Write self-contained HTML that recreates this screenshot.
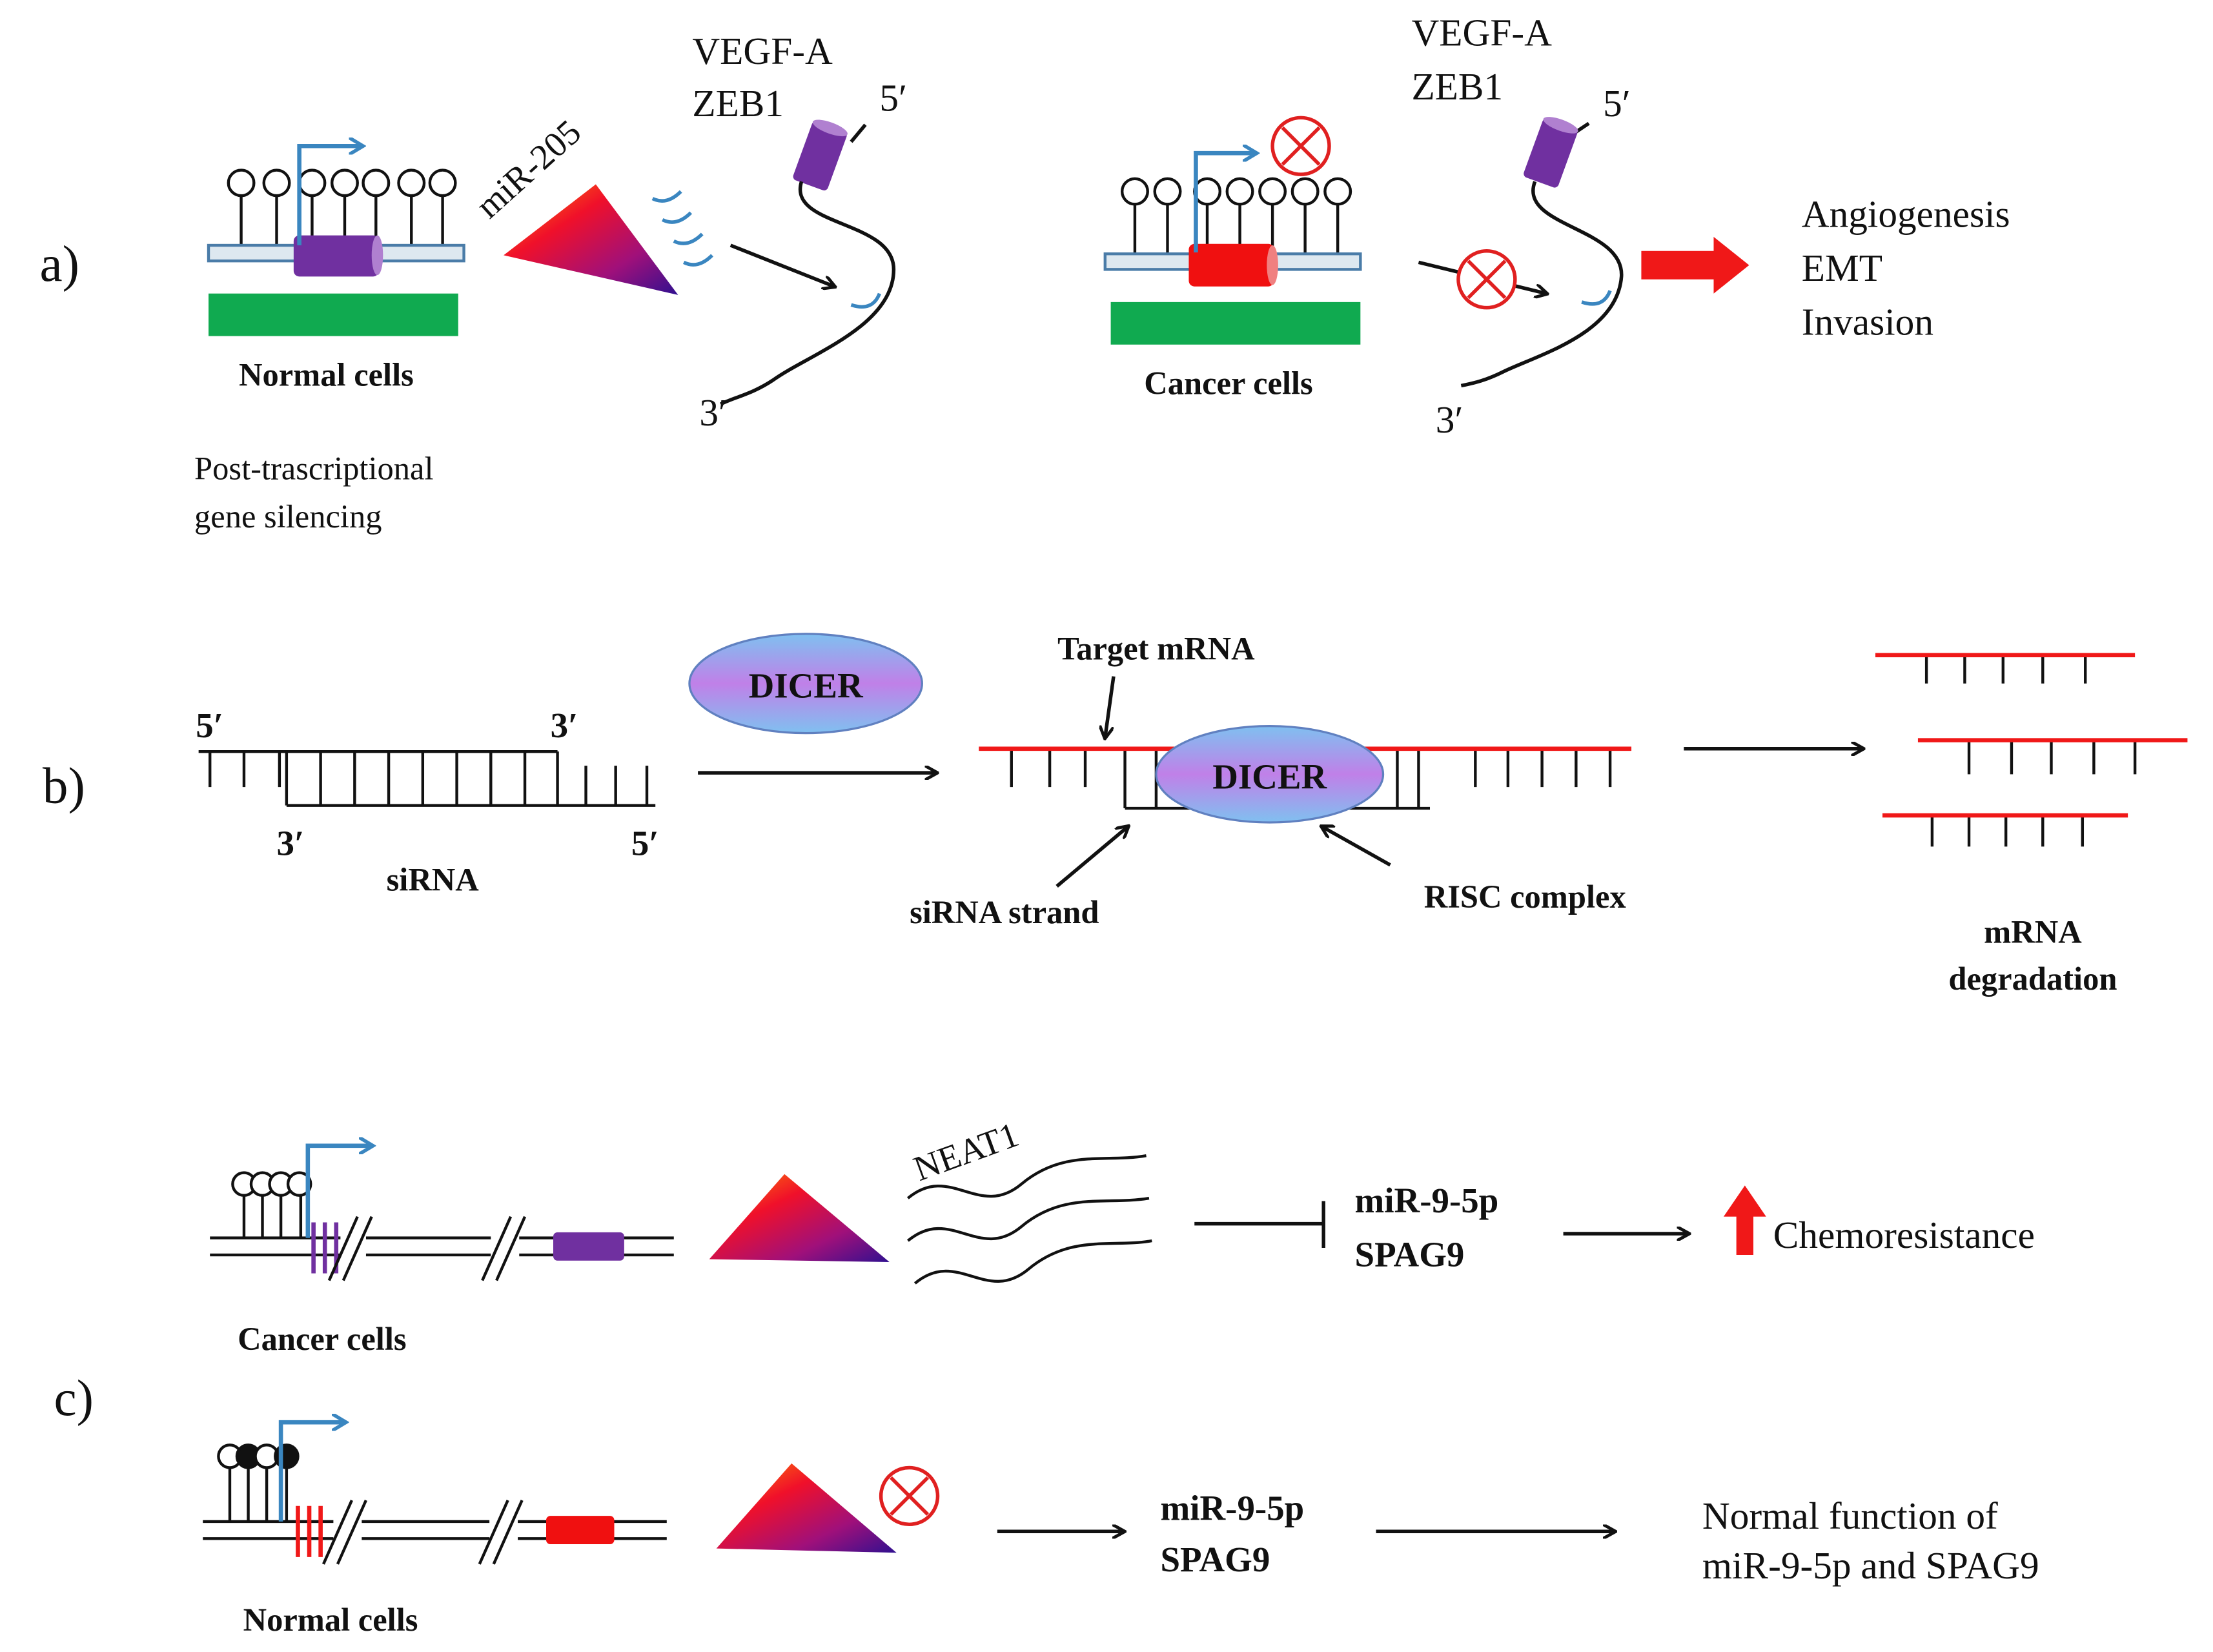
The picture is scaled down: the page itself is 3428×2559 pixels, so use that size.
<!DOCTYPE html>
<html><head><meta charset="utf-8"><style>
html,body{margin:0;padding:0;background:#fff}
svg{display:block}
text{font-family:"Liberation Serif",serif;fill:#111}
.b{font-weight:bold}
</style></head><body>
<svg width="3428" height="2559" viewBox="0 0 1560 1165" preserveAspectRatio="none" xmlns="http://www.w3.org/2000/svg">
<defs>
<linearGradient id="tri" x1="0" y1="0" x2="1" y2="1">
<stop offset="0" stop-color="#ff8a00"/><stop offset="0.35" stop-color="#f0102a"/><stop offset="0.7" stop-color="#a0107a"/><stop offset="1" stop-color="#301090"/></linearGradient>
<linearGradient id="dic" x1="0" y1="0" x2="0" y2="1">
<stop offset="0" stop-color="#7fc0f0"/><stop offset="0.5" stop-color="#c080e8"/><stop offset="1" stop-color="#80c0f0"/></linearGradient>
<marker id="ah" markerWidth="10" markerHeight="10" refX="8" refY="5" orient="auto" markerUnits="userSpaceOnUse"><path d="M0,0 L9,5 L0,10" fill="none" stroke="#111" stroke-width="2.2"/></marker>
<marker id="bh" markerWidth="12" markerHeight="12" refX="9" refY="6" orient="auto" markerUnits="userSpaceOnUse"><path d="M0,0 L10,6 L0,12" fill="none" stroke="#3a86c0" stroke-width="2.5"/></marker>
<g id="lp"><line x1="0" y1="0" x2="0" y2="38" stroke="#111" stroke-width="2"/><circle cx="0" cy="-8" r="9" fill="#fff" stroke="#111" stroke-width="2"/></g>
<g id="cx"><circle r="20" fill="#fff" stroke="#e02020" stroke-width="2.5"/><path d="M-13,-13 L13,13 M13,-13 L-13,13" stroke="#e02020" stroke-width="2.5"/></g>
</defs>

<!-- Panel a -->
<text x="28" y="198" font-size="36">a)</text>
<g transform="translate(0,0)">
<use href="#lp" x="170" y="137"/><use href="#lp" x="195" y="137"/><use href="#lp" x="220" y="137"/><use href="#lp" x="243" y="137"/><use href="#lp" x="265" y="137"/><use href="#lp" x="290" y="137"/><use href="#lp" x="312" y="137"/>
<rect x="147" y="173" width="180" height="11" fill="#dde8f0" stroke="#4a7ca8" stroke-width="2"/>
<rect x="207" y="166" width="60" height="29" rx="4" fill="#7030a0"/>
<ellipse cx="266" cy="180" rx="4" ry="14" fill="#b080d0"/>
<path d="M211,173 V103 H255" fill="none" stroke="#3a86c0" stroke-width="3" marker-end="url(#bh)"/>
<rect x="147" y="207" width="176" height="30" fill="#10aa50"/>
<text x="230" y="272" font-size="23" class="b" text-anchor="middle">Normal cells</text>
<text x="137" y="338" font-size="23">Post-trascriptional</text>
<text x="137" y="372" font-size="23">gene silencing</text>
<text x="0" y="0" font-size="25" transform="translate(345,155) rotate(-42)">miR-205</text>
<polygon points="355,180 420,130 478,208" fill="url(#tri)"/>
<path d="M460,140 q10,5 20,-5 M467,155 q10,5 20,-5 M475,170 q10,5 20,-5 M482,185 q10,5 20,-5" fill="none" stroke="#3a86c0" stroke-width="2.5"/>
<text x="488" y="45" font-size="27">VEGF-A</text>
<text x="488" y="82" font-size="27">ZEB1</text>
<text x="620" y="78" font-size="27">5′</text>
<line x1="600" y1="100" x2="610" y2="88" stroke="#111" stroke-width="2.5"/>
<g transform="translate(578,110) rotate(20)"><rect x="-13" y="-22" width="26" height="44" rx="3" fill="#7030a0"/><ellipse cx="0" cy="-21" rx="13" ry="4" fill="#b080d0"/></g>
<path d="M565,128 C555,160 630,155 630,190 C630,230 570,250 545,268 C530,278 518,280 508,285" fill="none" stroke="#111" stroke-width="2.5"/>
<path d="M600,215 q15,5 20,-8" fill="none" stroke="#3a86c0" stroke-width="2.5"/>
<line x1="515" y1="173" x2="588" y2="202" stroke="#111" stroke-width="2.5" marker-end="url(#ah)"/>
<text x="493" y="300" font-size="27">3′</text>
</g>
<!-- cancer a -->
<use href="#lp" x="800" y="143"/><use href="#lp" x="823" y="143"/><use href="#lp" x="851" y="143"/><use href="#lp" x="874" y="143"/><use href="#lp" x="897" y="143"/><use href="#lp" x="920" y="143"/><use href="#lp" x="943" y="143"/>
<rect x="779" y="179" width="180" height="11" fill="#dde8f0" stroke="#4a7ca8" stroke-width="2"/>
<rect x="838" y="172" width="60" height="30" rx="4" fill="#f01010"/>
<ellipse cx="897" cy="187" rx="4" ry="14" fill="#f08080"/>
<path d="M843,178 V108 H885" fill="none" stroke="#3a86c0" stroke-width="3" marker-end="url(#bh)"/>
<use href="#cx" x="917" y="103"/>
<rect x="783" y="213" width="176" height="30" fill="#10aa50"/>
<text x="866" y="278" font-size="23" class="b" text-anchor="middle">Cancer cells</text>
<text x="995" y="32" font-size="27">VEGF-A</text>
<text x="995" y="70" font-size="27">ZEB1</text>
<text x="1130" y="82" font-size="27">5′</text>
<line x1="1108" y1="95" x2="1120" y2="87" stroke="#111" stroke-width="2.5"/>
<g transform="translate(1093,108) rotate(20)"><rect x="-13" y="-22" width="26" height="44" rx="3" fill="#7030a0"/><ellipse cx="0" cy="-21" rx="13" ry="4" fill="#b080d0"/></g>
<path d="M1082,128 C1070,160 1145,160 1143,195 C1140,235 1085,250 1060,262 C1048,268 1040,270 1030,272" fill="none" stroke="#111" stroke-width="2.5"/>
<path d="M1115,213 q15,5 20,-8" fill="none" stroke="#3a86c0" stroke-width="2.5"/>
<line x1="1000" y1="185" x2="1090" y2="207" stroke="#111" stroke-width="2.5" marker-end="url(#ah)"/>
<use href="#cx" x="1048" y="197"/>
<text x="1012" y="305" font-size="27">3′</text>
<polygon points="1157,177 1208,177 1208,167 1233,187 1208,207 1208,197 1157,197" fill="#f01818"/>
<text x="1270" y="160" font-size="27">Angiogenesis</text>
<text x="1270" y="198" font-size="27">EMT</text>
<text x="1270" y="236" font-size="27">Invasion</text>

<!-- Panel b -->
<text x="30" y="566" font-size="36">b)</text>
<g stroke="#111" stroke-width="2" fill="none">
<line x1="140" y1="530" x2="393" y2="530"/>
<line x1="202" y1="568" x2="462" y2="568"/>
<path d="M148,530v25 M172,530v25 M197,530v25 M202,530v38 M226,530v38 M250,530v38 M274,530v38 M298,530v38 M322,530v38 M346,530v38 M370,530v38 M393,530v38 M413,568v-28 M434,568v-28 M456,568v-28"/>
</g>
<text x="138" y="520" font-size="25" class="b">5′</text>
<text x="388" y="520" font-size="25" class="b">3′</text>
<text x="195" y="603" font-size="25" class="b">3′</text>
<text x="445" y="603" font-size="25" class="b">5′</text>
<text x="305" y="628" font-size="23" class="b" text-anchor="middle">siRNA</text>
<ellipse cx="568" cy="482" rx="82" ry="35" fill="url(#dic)" stroke="#6080c0" stroke-width="1.5"/>
<text x="568" y="492" font-size="25" class="b" text-anchor="middle">DICER</text>
<line x1="492" y1="545" x2="660" y2="545" stroke="#111" stroke-width="2.5" marker-end="url(#ah)"/>
<g stroke="#111" stroke-width="2" fill="none">
<line x1="793" y1="570" x2="1008" y2="570"/>
<path d="M713,528v27 M740,528v27 M765,528v27 M793,528v42 M815,528v42 M985,528v42 M1000,528v42 M1040,528v27 M1063,528v27 M1087,528v27 M1111,528v27 M1135,528v27"/>
</g>
<line x1="690" y1="528" x2="1150" y2="528" stroke="#f01818" stroke-width="3"/>
<ellipse cx="895" cy="546" rx="80" ry="34" fill="url(#dic)" stroke="#6080c0" stroke-width="1.5"/>
<text x="895" y="556" font-size="25" class="b" text-anchor="middle">DICER</text>
<text x="815" y="465" font-size="23" class="b" text-anchor="middle">Target mRNA</text>
<line x1="785" y1="477" x2="779" y2="520" stroke="#111" stroke-width="2.5" marker-end="url(#ah)"/>
<text x="708" y="651" font-size="23" class="b" text-anchor="middle">siRNA strand</text>
<line x1="745" y1="625" x2="795" y2="583" stroke="#111" stroke-width="2.5" marker-end="url(#ah)"/>
<text x="1075" y="640" font-size="23" class="b" text-anchor="middle">RISC complex</text>
<line x1="980" y1="610" x2="932" y2="583" stroke="#111" stroke-width="2.5" marker-end="url(#ah)"/>
<line x1="1187" y1="528" x2="1313" y2="528" stroke="#111" stroke-width="2.5" marker-end="url(#ah)"/>
<g stroke="#111" stroke-width="2">
<path d="M1358,462v20 M1385,462v20 M1412,462v20 M1440,462v20 M1470,462v20 M1388,522v24 M1418,522v24 M1446,522v24 M1476,522v24 M1505,522v24 M1362,575v22 M1388,575v22 M1414,575v22 M1440,575v22 M1468,575v22"/>
</g>
<g stroke="#f01818" stroke-width="3">
<line x1="1322" y1="462" x2="1505" y2="462"/><line x1="1352" y1="522" x2="1542" y2="522"/><line x1="1327" y1="575" x2="1500" y2="575"/>
</g>
<text x="1433" y="665" font-size="23" class="b" text-anchor="middle">mRNA</text>
<text x="1433" y="698" font-size="23" class="b" text-anchor="middle">degradation</text>

<!-- Panel c -->
<g stroke="#111" stroke-width="2" fill="none">
<line x1="148" y1="873" x2="475" y2="873"/><line x1="148" y1="885" x2="475" y2="885"/>
<path d="M172,835v38 M185,835v38 M198,835v38 M212,835v38"/>
</g>
<g fill="#fff" stroke="#111" stroke-width="2"><circle cx="172" cy="835" r="8"/><circle cx="185" cy="835" r="8"/><circle cx="198" cy="835" r="8"/><circle cx="211" cy="835" r="8"/></g>
<path d="M217,873 V808 H262" fill="none" stroke="#3a86c0" stroke-width="3" marker-end="url(#bh)"/>
<path d="M221,862v36 M229,862v36 M237,862v36" stroke="#7030a0" stroke-width="3"/>
<rect x="240" y="866" width="18" height="24" fill="#fff"/><rect x="346" y="866" width="20" height="24" fill="#fff"/>
<path d="M232,903 L252,858 M242,903 L262,858 M340,903 L360,858 M350,903 L370,858" stroke="#111" stroke-width="2"/>
<rect x="390" y="869" width="50" height="20" rx="3" fill="#7030a0"/>
<polygon points="500,888 553,828 627,890" fill="url(#tri)"/>
<path d="M640,845 C670,820 690,860 720,835 S780,820 808,815 M640,875 C670,850 690,890 720,865 S780,850 810,845 M645,905 C675,880 695,920 725,895 S785,880 812,875" fill="none" stroke="#111" stroke-width="2"/>
<text x="0" y="0" font-size="25" transform="translate(648,833) rotate(-20)">NEAT1</text>
<line x1="842" y1="863" x2="933" y2="863" stroke="#111" stroke-width="2.5"/>
<line x1="933" y1="847" x2="933" y2="880" stroke="#111" stroke-width="2.5"/>
<text x="955" y="855" font-size="25" class="b">miR-9-5p</text>
<text x="955" y="893" font-size="25" class="b">SPAG9</text>
<line x1="1102" y1="870" x2="1190" y2="870" stroke="#111" stroke-width="2.5" marker-end="url(#ah)"/>
<polygon points="1224,885 1236,885 1236,858 1245,858 1230,836 1215,858 1224,858" fill="#f01818"/>
<text x="1250" y="880" font-size="27">Chemoresistance</text>
<text x="227" y="952" font-size="23" class="b" text-anchor="middle">Cancer cells</text>
<text x="38" y="998" font-size="36">c)</text>

<g stroke="#111" stroke-width="2" fill="none">
<line x1="143" y1="1073" x2="470" y2="1073"/><line x1="143" y1="1085" x2="470" y2="1085"/>
<path d="M162,1027v46 M175,1027v46 M188,1027v46 M202,1027v46"/>
</g>
<g stroke="#111" stroke-width="2"><circle cx="162" cy="1027" r="8" fill="#fff"/><circle cx="175" cy="1027" r="8" fill="#111"/><circle cx="188" cy="1027" r="8" fill="#fff"/><circle cx="202" cy="1027" r="8" fill="#111"/></g>
<path d="M198,1073 V1003 H243" fill="none" stroke="#3a86c0" stroke-width="3" marker-end="url(#bh)"/>
<path d="M210,1062v36 M218,1062v36 M226,1062v36" stroke="#f01818" stroke-width="3"/>
<rect x="235" y="1066" width="20" height="24" fill="#fff"/><rect x="345" y="1066" width="20" height="24" fill="#fff"/>
<path d="M228,1103 L248,1058 M238,1103 L258,1058 M338,1103 L358,1058 M348,1103 L368,1058" stroke="#111" stroke-width="2"/>
<rect x="385" y="1069" width="48" height="20" rx="3" fill="#f01010"/>
<polygon points="505,1092 558,1032 632,1095" fill="url(#tri)"/>
<use href="#cx" x="641" y="1055"/>
<line x1="703" y1="1080" x2="792" y2="1080" stroke="#111" stroke-width="2.5" marker-end="url(#ah)"/>
<text x="818" y="1072" font-size="25" class="b">miR-9-5p</text>
<text x="818" y="1108" font-size="25" class="b">SPAG9</text>
<line x1="970" y1="1080" x2="1138" y2="1080" stroke="#111" stroke-width="2.5" marker-end="url(#ah)"/>
<text x="1200" y="1078" font-size="27">Normal function of</text>
<text x="1200" y="1113" font-size="27">miR-9-5p and SPAG9</text>
<text x="233" y="1150" font-size="23" class="b" text-anchor="middle">Normal cells</text>
</svg>
</body></html>
